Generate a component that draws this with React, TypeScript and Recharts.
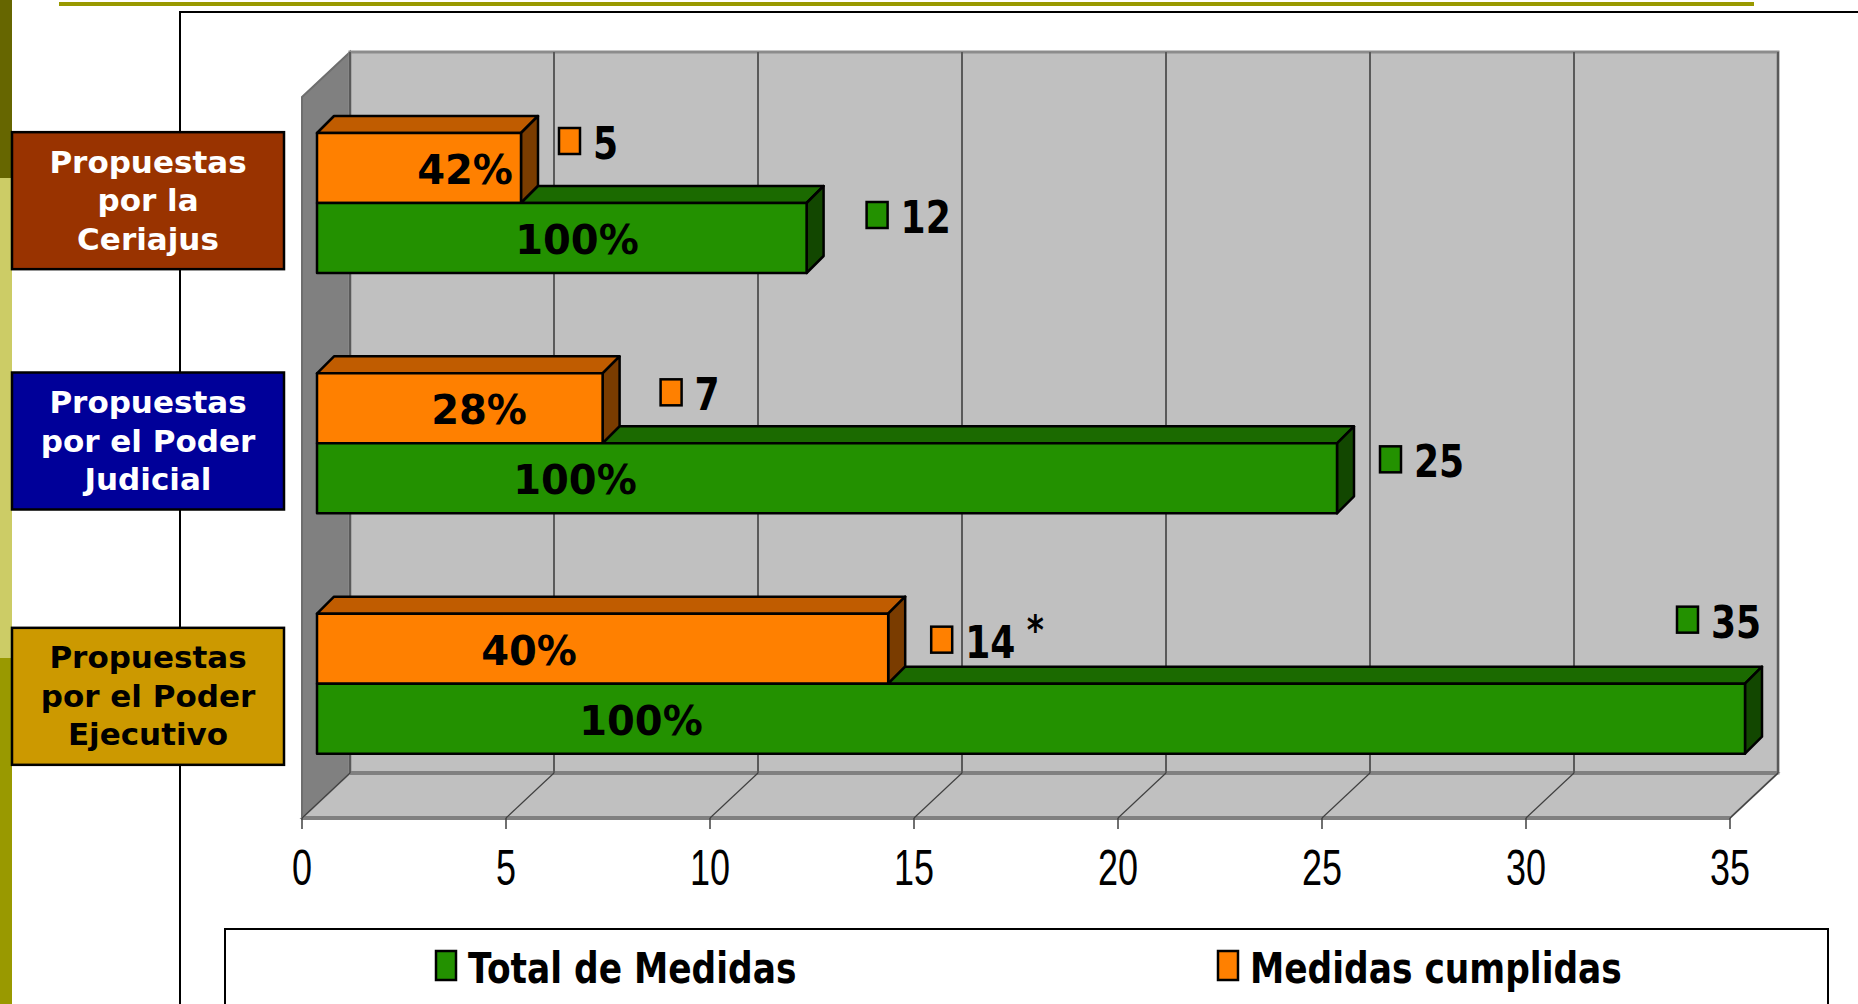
import React from 'react'
import { BarChart, Bar, XAxis, YAxis, CartesianGrid } from 'recharts'

// data
const categories = [
  'Propuestas\npor la\nCeriajus',
  'Propuestas\npor el Poder\nJudicial',
  'Propuestas\npor el Poder\nEjecutivo',
]
const totalMedidas = [12, 25, 35]
const medidasCumplidas = [5, 7, 14]
const cumplidasNota = ['', '', '*']
const xTicks = [0, 5, 10, 15, 20, 25, 30, 35]
const seriesNames = ['Total de Medidas', 'Medidas cumplidas']

const rows = categories.map((name, i) => ({
  name,
  total: totalMedidas[i],
  cumplidas: medidasCumplidas[i],
  nota: cumplidasNota[i],
}))

// layout
const W = 1858
const H = 1004
const PLOT = { left: 302, top: 97, right: 1730, bottom: 818 }
const DX = 48 // wall depth
const DY = 45
const BX = 15 // bar front plane offset
const BY = 14
const BD = 17 // bar depth
const AXIS_H = 30

const ORANGE = { front: '#FF8000', top: '#C05C00', side: '#7A3C00' }
const GREEN = { front: '#239100', top: '#1B6A00', side: '#124700' }
const boxFill = ['#993300', '#000099', '#CC9900']
const boxText = ['#FFFFFF', '#FFFFFF', '#000000']
const boxNudge = [-3, -3, 12]
const pctDx: Record<string, number[]> = { cumplidas: [148, 162, 212], total: [260, 258, 324] }
const valueNudge: Record<string, number[][]> = {
  cumplidas: [[38, -5], [58, 6], [43, 13]],
  total: [[60, -1], [43, 3], [-68, -77]],
}
const boldFont = 'DejaVu Sans, Verdana, sans-serif'

const Block = ({ x, y, w, h, c, topFrom }: any) => (
  <g stroke="#000" strokeWidth={2.5} strokeLinejoin="round">
    {x + w > topFrom && (
      <polygon
        points={`${topFrom},${y} ${x + w},${y} ${x + w + BD},${y - BD} ${topFrom + BD},${y - BD}`}
        fill={c.top}
      />
    )}
    <polygon
      points={`${x + w},${y} ${x + w + BD},${y - BD} ${x + w + BD},${y + h - BD} ${x + w},${y + h}`}
      fill={c.side}
    />
    <rect x={x} y={y} width={w} height={h} fill={c.front} />
  </g>
)

const ValueTag = ({ x, y, color, text, nota }: any) => (
  <g>
    <rect x={x} y={y} width={21} height={26} fill={color} stroke="#000" strokeWidth={2.5} />
    <text
      transform={`translate(${x + 34},${y + 31}) scale(0.82,1)`}
      fontFamily={boldFont}
      fontWeight="bold"
      fontSize={44}
      fill="#000"
    >
      {text}
      {nota ? <tspan dx={14} dy={-14} fontSize={40}>{nota}</tspan> : null}
    </text>
  </g>
)

const makeShape = (key: 'cumplidas' | 'total', c: any, tagColor: string) => (p: any) => {
  const { x, y, width, height, index, payload } = p
  const fx = x + BX
  const fy = y - BY
  const topFrom = key === 'total' ? fx + (width * payload.cumplidas) / payload.total : fx
  const pct = Math.round((100 * payload[key]) / payload.total)
  const [nx, ny] = valueNudge[key][index]
  return (
    <g>
      <Block x={fx} y={fy} w={width} h={height} c={c} topFrom={topFrom} />
      <text
        x={fx + pctDx[key][index]}
        y={fy + height / 2 + 16}
        textAnchor="middle"
        fontFamily={boldFont}
        fontWeight="bold"
        fontSize={40}
        fill="#000"
      >
        {pct}%
      </text>
      <ValueTag
        x={fx + width + nx}
        y={fy + ny}
        color={tagColor}
        text={payload[key]}
        nota={key === 'cumplidas' ? payload.nota : ''}
      />
    </g>
  )
}

const CumplidasShape = makeShape('cumplidas', ORANGE, '#FF8000')
const TotalShape = makeShape('total', GREEN, '#239100')

const CategoryBox = (p: any) => {
  const { y, index, payload } = p
  const cy = y - BY + boxNudge[index]
  const lines = String(payload.value).split('\n')
  const cx = 148
  return (
    <g>
      <rect x={12} y={cy - 68} width={272} height={137} fill={boxFill[index]} stroke="#000" strokeWidth={2.5} />
      <text textAnchor="middle" fill={boxText[index]} fontFamily={boldFont} fontWeight="bold" fontSize={31}>
        {lines.map((l, k) => (
          <tspan key={k} x={cx} y={cy + (k - 1) * 38.5 + 11}>
            {l}
          </tspan>
        ))}
      </text>
    </g>
  )
}

const XTick = (p: any) => {
  const { x, y, payload } = p
  return (
    <g>
      <line x1={x} y1={y} x2={x} y2={y + 11} stroke="#404040" strokeWidth={1.5} />
      <text
        transform={`translate(${x},${y + 67}) scale(0.72,1)`}
        textAnchor="middle"
        fontFamily="Liberation Sans, Arial, sans-serif"
        fontSize={50}
        fill="#000"
      >
        {payload.value}
      </text>
    </g>
  )
}

const gridLine = (p: any) => {
  const { x1, y1, y2, index } = p
  return (
    <g key={`v-${index}`}>
      <line x1={x1 + DX} y1={y1 - DY} x2={x1 + DX} y2={y2 - DY} stroke="#5A5A5A" strokeWidth={2} />
      <line x1={x1} y1={y2} x2={x1 + DX} y2={y2 - DY} stroke="#404040" strokeWidth={1.2} />
    </g>
  )
}

const Walls = () => {
  const { left: L, top: T, right: R, bottom: B } = PLOT
  return (
    <svg width={W} height={H} style={{ position: 'absolute', left: 0, top: 0 }}>
      <polygon points={`${L},${T} ${L + DX},${T - DY} ${L + DX},${B - DY} ${L},${B}`} fill="#808080" stroke="#6E6E6E" strokeWidth={2} />
      <rect x={L + DX} y={T - DY} width={R - L} height={B - T} fill="#C0C0C0" stroke="#8C8C8C" strokeWidth={3} />
      <polygon points={`${L},${B} ${R},${B} ${R + DX},${B - DY} ${L + DX},${B - DY}`} fill="#C0C0C0" stroke="#8C8C8C" strokeWidth={2} />
      <line x1={L + DX} y1={B - DY} x2={R + DX} y2={B - DY} stroke="#808080" strokeWidth={4} />
      <line x1={L} y1={B} x2={R} y2={B} stroke="#808080" strokeWidth={4} />
    </svg>
  )
}

const LegendBox = () => {
  const items = [
    { name: seriesNames[0], color: '#239100', x: 436 - 224 },
    { name: seriesNames[1], color: '#FF8000', x: 1218 - 224 },
  ]
  return (
    <div
      style={{
        position: 'absolute',
        left: 224,
        top: 928,
        width: 1605,
        height: 100,
        border: '2px solid #000',
        background: '#fff',
        boxSizing: 'border-box',
      }}
    >
      <svg width={1605} height={100} style={{ position: 'absolute', left: -2, top: -2 }}>
        {items.map((it) => (
          <g key={it.name}>
            <rect x={it.x} y={23} width={20} height={29} fill={it.color} stroke="#000" strokeWidth={2.5} />
            <text
              transform={`translate(${it.x + 32},${55}) scale(0.82,1)`}
              fontFamily={boldFont}
              fontWeight="bold"
              fontSize={42}
              fill="#000"
            >
              {it.name}
            </text>
          </g>
        ))}
      </svg>
    </div>
  )
}

export default function App() {
  return (
    <div style={{ position: 'absolute', left: 0, top: 0, width: W, height: H, background: '#fff', overflow: 'hidden' }}>
      <div style={{ position: 'absolute', left: 0, top: 0, width: 12, height: 178, background: '#666600' }} />
      <div style={{ position: 'absolute', left: 0, top: 178, width: 12, height: 480, background: '#CCCC66' }} />
      <div style={{ position: 'absolute', left: 0, top: 658, width: 12, height: H - 658, background: '#999900' }} />
      <div style={{ position: 'absolute', left: 59, top: 2, width: 1695, height: 4, background: '#999900' }} />
      <div style={{ position: 'absolute', left: 179, top: 11, width: W - 179, height: 2, background: '#000' }} />
      <div style={{ position: 'absolute', left: 179, top: 11, width: 2, height: H - 11, background: '#000' }} />
      <Walls />
      <div style={{ position: 'absolute', left: 0, top: 0 }}>
        <BarChart
          width={W}
          height={H}
          layout="vertical"
          data={rows}
          margin={{ top: PLOT.top, right: W - PLOT.right, bottom: H - PLOT.bottom - AXIS_H, left: 0 }}
          barGap={0}
          barSize={70}
        >
          <CartesianGrid horizontal={false} vertical={gridLine} />
          <XAxis
            type="number"
            domain={[0, 35]}
            ticks={xTicks}
            interval={0}
            height={AXIS_H}
            tick={XTick}
            tickLine={false}
            axisLine={false}
            tickSize={0}
            tickMargin={0}
          />
          <YAxis
            type="category"
            dataKey="name"
            width={PLOT.left}
            interval={0}
            tick={CategoryBox}
            tickLine={false}
            axisLine={false}
          />
          <Bar dataKey="cumplidas" shape={CumplidasShape} isAnimationActive={false} />
          <Bar dataKey="total" shape={TotalShape} isAnimationActive={false} />
        </BarChart>
      </div>
      <LegendBox />
    </div>
  )
}
